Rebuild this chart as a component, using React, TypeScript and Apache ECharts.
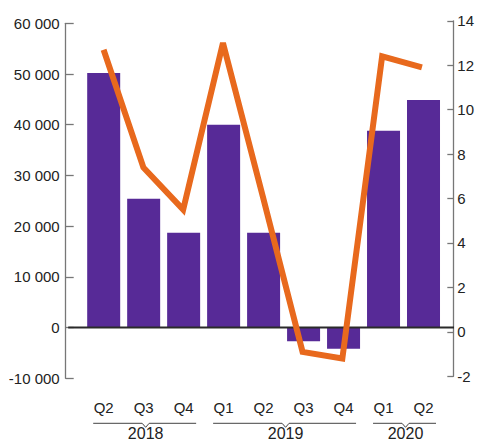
import React, { useEffect, useRef } from "react";
import * as echarts from "echarts";

const quarters = ["Q2", "Q3", "Q4", "Q1", "Q2", "Q3", "Q4", "Q1", "Q2"];
const quarterYears = ["2018", "2018", "2018", "2019", "2019", "2019", "2019", "2020", "2020"];
const years = ["2018", "2019", "2020"];
const barValues = [50200, 25400, 18700, 40000, 18700, -2700, -4150, 38800, 44900];
const lineValues = [12.7, 7.4, 5.5, 13.0, 6.1, -0.9, -1.2, 12.4, 11.9];
const leftTicks = { min: -10000, max: 60000, interval: 10000 };
const rightTicks = { min: -2, max: 14, interval: 2 };

const PURPLE = "#572A97";
const ORANGE = "#E8691D";
const FONT = "'Liberation Sans', Arial, sans-serif";
const TEXT = "#222";
const AXIS = "#777";

const fmtThousands = (v: number) => {
  const s = Math.abs(v).toString().replace(/\B(?=(\d{3})+(?!\d))/g, " ");
  return (v < 0 ? "-" : "") + s;
};

export default function App() {
  const ref = useRef<HTMLDivElement>(null);
  useEffect(() => {
    if (!ref.current) return;
    const chart = echarts.init(ref.current, null, { renderer: "svg" });
    const catIdx = quarters.map((_, i) => String(i));
    const gridL = 83.7;
    const gridR = 477 - 443.5;
    chart.setOption({
      animation: false,
      grid: [
        { left: gridL, right: gridR, top: 23.3, height: 355 },
        { left: gridL, right: gridR, top: 20.8, height: 355.5 },
      ],
      xAxis: [
        {
          type: "category",
          gridIndex: 0,
          data: catIdx,
          axisLine: { show: false, onZero: false },
          axisTick: { show: false },
          axisLabel: {
            margin: 22,
            fontFamily: FONT,
            fontSize: 15,
            color: TEXT,
            formatter: (v: string) => quarters[Number(v)],
          },
        },
        {
          type: "category",
          gridIndex: 1,
          data: catIdx,
          show: false,
        },
      ],
      yAxis: [
        {
          type: "value",
          gridIndex: 0,
          ...leftTicks,
          offset: 18,
          splitLine: { show: false },
          axisLine: { show: true, lineStyle: { color: AXIS, width: 1.3 } },
          axisTick: { show: true, inside: true, length: 8, lineStyle: { color: AXIS, width: 1.3 } },
          axisLabel: {
            margin: 6,
            fontFamily: FONT,
            fontSize: 15,
            color: TEXT,
            formatter: (v: number) => fmtThousands(v),
          },
        },
        {
          type: "value",
          gridIndex: 1,
          position: "right",
          ...rightTicks,
          offset: 11.5,
          splitLine: { show: false },
          axisLine: { show: true, lineStyle: { color: AXIS, width: 1.3 } },
          axisTick: { show: true, inside: true, length: 6, lineStyle: { color: AXIS, width: 1.3 } },
          axisLabel: {
            margin: 4,
            fontFamily: FONT,
            fontSize: 15,
            color: TEXT,
          },
        },
      ],
      series: [
        {
          type: "bar",
          xAxisIndex: 0,
          yAxisIndex: 0,
          data: barValues,
          barWidth: 33,
          itemStyle: { color: PURPLE },
          z: 2,
        },
        {
          type: "line",
          xAxisIndex: 1,
          yAxisIndex: 1,
          data: lineValues,
          symbol: "none",
          lineStyle: { color: ORANGE, width: 6, join: "miter", cap: "butt" },
          z: 4,
        },
      ],
    });

    // Decorations computed from the library's scales
    const y0 = chart.convertToPixel({ yAxisIndex: 0 }, 0) as number;
    const yBottom = chart.convertToPixel({ yAxisIndex: 0 }, leftTicks.min) as number;
    const leftAxisX = gridL - 18;
    const rightAxisX = 477 - gridR + 11.5;
    const graphics: any[] = [
      {
        type: "line",
        shape: { x1: leftAxisX + 2.5, y1: y0, x2: rightAxisX - 1, y2: y0 },
        style: { stroke: "#2a2a2a", lineWidth: 2 },
        z: 3,
      },
    ];
    const bracketY = yBottom + 45;
    years.forEach((yr) => {
      const idx = quarterYears.map((q, i) => (q === yr ? i : -1)).filter((i) => i >= 0);
      const first = chart.convertToPixel({ xAxisIndex: 0 }, String(idx[0])) as number;
      const last = chart.convertToPixel({ xAxisIndex: 0 }, String(idx[idx.length - 1])) as number;
      const x1 = first - 10.5;
      const x2 = last + 12.5;
      const mid = (first + last) / 2 + 2;
      graphics.push({
        type: "polyline",
        shape: {
          points: [
            [x1, bracketY],
            [mid - 3.5, bracketY],
            [mid, bracketY + 4],
            [mid + 3.5, bracketY],
            [x2, bracketY],
          ],
        },
        style: { stroke: "#444", lineWidth: 1, fill: null },
      });
      graphics.push({
        type: "text",
        x: mid,
        y: bracketY + 10,
        style: {
          text: yr,
          fontFamily: FONT,
          fontSize: 16,
          fill: TEXT,
          align: "center",
          verticalAlign: "middle",
        },
      });
    });
    chart.setOption({ graphic: graphics });

    return () => chart.dispose();
  }, []);
  return (
    <div
      ref={ref}
      style={{ position: "fixed", left: 0, top: 0, width: 477, height: 448, background: "#fff" }}
    />
  );
}
